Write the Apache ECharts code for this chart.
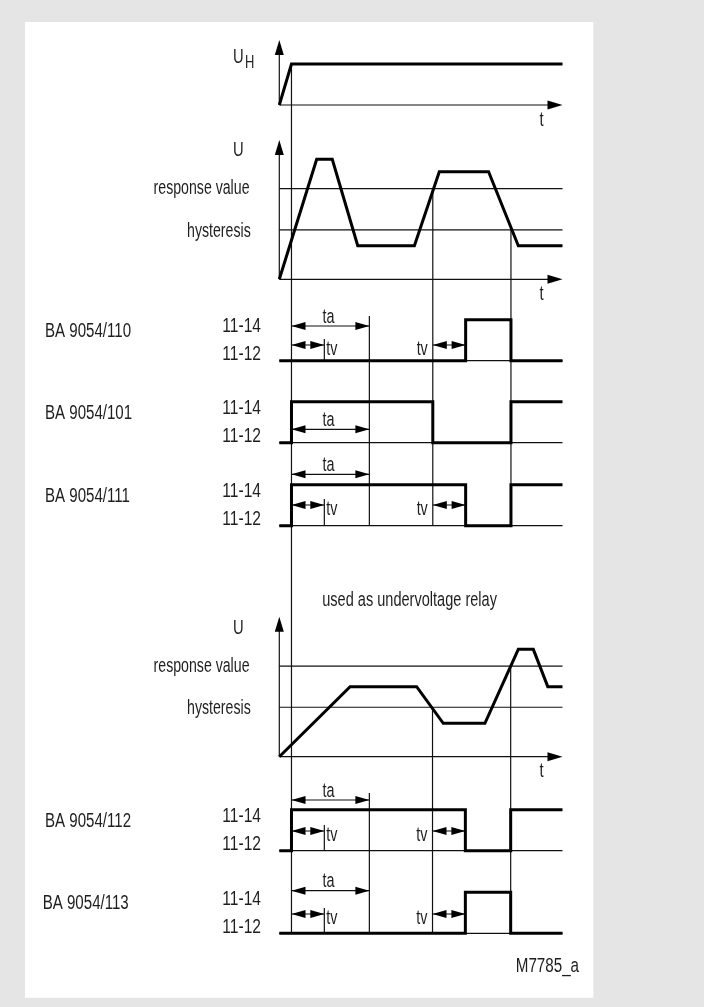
<!DOCTYPE html>
<html>
<head>
<meta charset="utf-8">
<script src="https://cdn.jsdelivr.net/npm/echarts@6/dist/echarts.min.js"></script>
<style>
html,body{margin:0;padding:0;background:#e5e5e5;}
#c{width:704px;height:1007px;}
</style>
</head>
<body>
<div id="c"></div>
<script>
// ================= DATA =================
// time axis runs 0..100 (arbitrary units)
const tEnd = 100;
const tPowerOn = 4.3;          // U_H switched on
const ta = 27.5;               // start-up delay ta
const tv = 11.6;               // response delay tv

const uhTimes  = [0, 4.3, 100];
const uhLevels = [0, 1, 1];

// monitored voltage, first diagram (overvoltage), response value = 100
const uTimes  = [0, 13.2, 18.7, 27.7, 47.7, 56.5, 73.9, 84.4, 100];
const uLevels = [0, 132.5, 132.5, 37.1, 37.1, 118.8, 118.8, 37.1, 37.1];

// monitored voltage, second diagram (undervoltage)
const uvTimes  = [0, 25.0, 48.5, 57.9, 72.6, 84.4, 89.7, 94.8, 100];
const uvLevels = [0, 77.3, 77.3, 36.9, 36.9, 118.5, 118.5, 77.3, 77.3];

const thresholdNames  = ['response value', 'hysteresis'];
const thresholdLevels = [100, 54.6];

const uCrossTimes  = [54.2, 81.8];   // U above response value / below hysteresis
const uvCrossTimes = [54.1, 81.7];   // U below hysteresis / above response value

const relayNames  = ['BA 9054/110', 'BA 9054/101', 'BA 9054/111', 'BA 9054/112', 'BA 9054/113'];
const relayGroup  = [0, 0, 0, 1, 1];            // 0 = first diagram, 1 = undervoltage diagram
// states at: t=0, power on, crossing 1, crossing 1 + tv, crossing 2   (1 = 11-14 closed)
const relayStates = [
  [0, 0, 0, 1, 0],
  [0, 1, 0, 0, 1],
  [0, 1, 1, 0, 1],
  [0, 1, 1, 0, 1],
  [0, 0, 0, 1, 0]
];
const relayHasTv = [true, false, true, true, true];
const contactLabels = ['11-14', '11-12'];
const axisLabelUH = ['U', 'H'];
const axisLabelU = 'U';
const timeLabel = 't';
const taLabel = 'ta', tvLabel = 'tv';
const subTitle = 'used as undervoltage relay';
const drawingId = 'M7785_a';

// ================= LAYOUT (pixels) =================
const X0 = 279.3, X1 = 562.5;
const uhRow = {base: 105, scale: 41, top: 40};
const uRow  = {base: 279.3, scale: 0.906, top: 140};
const uvRow = {base: 756.7, scale: 0.906, top: 616.7};
const relayBase = [360.7, 442.7, 525.7, 850.7, 933.3];
const relayHigh = 41;
const taRise = [34.7, 13.4, 51.4, 50.7, 42.6];
const tvRise = [15.7, 0, 20.7, 19.7, 19.3];
const nameX = [45, 45, 45, 45, 42.7];
const FONT = '"Liberation Sans", Arial, sans-serif';
const FS = 20.5;
const TXT = '#1e1e1e';
const THIN = 1.2, THICK = 3;

// ================= BUILD =================
const yOf = (row, lv) => row.base - lv * row.scale;
const segs = [];   // [t1, y1, t2, y2]
const heads = [];  // {t, y, dir, len, half}
const texts = [];  // {t, y, dx, dy, text, align, size, sx}

function seg(t1, y1, t2, y2) { segs.push([t1, y1, t2, y2]); }
function head(t, y, dir, len, half) { heads.push({t, y, dir, len: len || 14, half: half || 4}); }
function txt(t, y, dx, dy, text, align, sx, size) {
  texts.push({t, y, dx, dy, text, align: align || 'center', sx: sx || 0.72, size: size || FS});
}

// axes of the three voltage diagrams
[uhRow, uRow, uvRow].forEach(row => {
  seg(0, row.base, 0, row.top + 10);
  head(0, row.top, 'u', 15, 4.5);
  seg(0, row.base, tEnd - 4, row.base);
  head(tEnd, row.base, 'r', 15, 4.5);
  txt(tEnd, row.base, -21, 15, timeLabel, 'center');
});
txt(0, yOf(uhRow, 1), -41, -6.5, axisLabelUH[0], 'center');
txt(0, yOf(uhRow, 1), -29.5, -0.5, axisLabelUH[1], 'center', 0.72, 18);
txt(0, uRow.top, -41, 10.7, axisLabelU, 'center');
txt(0, uvRow.top, -41, 11.3, axisLabelU, 'center');

// thresholds
[uRow, uvRow].forEach(row => {
  thresholdLevels.forEach((lv, i) => {
    seg(0, yOf(row, lv), tEnd, yOf(row, lv));
    txt(0, yOf(row, lv), i === 0 ? -29.8 : -28.6, i === 0 ? 0 : 1.5, thresholdNames[i], 'right', 0.69);
  });
});
txt(46, uvRow.top, 0, -16.7, subTitle, 'center', 0.71);

// vertical event lines
const lastUpper = relayBase[2], lastLower = relayBase[4];
seg(tPowerOn, yOf(uhRow, 1), tPowerOn, lastLower);
seg(uCrossTimes[0], yOf(uRow, thresholdLevels[0]), uCrossTimes[0], lastUpper);
seg(uCrossTimes[1], yOf(uRow, thresholdLevels[1]), uCrossTimes[1], lastUpper);
seg(uvCrossTimes[0], yOf(uvRow, thresholdLevels[1]), uvCrossTimes[0], lastLower);
seg(uvCrossTimes[1], yOf(uvRow, thresholdLevels[0]), uvCrossTimes[1], lastLower);
seg(tPowerOn + ta, relayBase[0] - taRise[0] - 10, tPowerOn + ta, lastUpper);
seg(tPowerOn + ta, relayBase[3] - taRise[3] - 7, tPowerOn + ta, lastLower);

// relays
const relaySeries = [];
relayNames.forEach((name, r) => {
  const base = relayBase[r];
  const cross = relayGroup[r] === 0 ? uCrossTimes : uvCrossTimes;
  const times = [0, tPowerOn, cross[0], cross[0] + tv, cross[1]];
  const st = relayStates[r];
  const pts = [];
  for (let i = 0; i < times.length; i++) {
    if (i > 0) pts.push([times[i], base - st[i - 1] * relayHigh]);
    pts.push([times[i], base - st[i] * relayHigh]);
  }
  pts.push([tEnd, base - st[st.length - 1] * relayHigh]);
  relaySeries.push(pts);
  seg(0, base, tEnd, base);
  txt(0, base, nameX[r] - X0, -29.5, name, 'left', 0.735);
  txt(0, base, -18.3, -34, contactLabels[0], 'right', 0.76);
  txt(0, base, -18.3, -6, contactLabels[1], 'right', 0.76);
  // ta arrow
  const ya = base - taRise[r];
  seg(tPowerOn, ya, tPowerOn + ta, ya);
  head(tPowerOn, ya, 'l');
  head(tPowerOn + ta, ya, 'r');
  txt(tPowerOn + ta / 2, ya, -2, -9, taLabel, 'center', 0.7);
  if (relayHasTv[r]) {
    const yv = base - tvRise[r];
    seg(tPowerOn, yv, tPowerOn + tv, yv);
    head(tPowerOn, yv, 'l');
    head(tPowerOn + tv, yv, 'r');
    seg(tPowerOn + tv, yv - 6, tPowerOn + tv, base);
    txt(tPowerOn + tv, yv, 2, 4, tvLabel, 'left', 0.7);
    seg(cross[0], yv, cross[0] + tv, yv);
    head(cross[0], yv, 'l');
    head(cross[0] + tv, yv, 'r');
    txt(cross[0], yv, -5, 4, tvLabel, 'right', 0.7);
  }
});
txt(0, relayBase[4], 579 - X0, 33.4, drawingId, 'right', 0.74);

const lineSeries = (pts) => ({
  type: 'line', data: pts, symbol: 'none', silent: true, clip: false, z: 5,
  lineStyle: {color: '#000', width: THICK, join: 'miter', cap: 'butt'}
});

const option = {
  animation: false,
  backgroundColor: '#e5e5e5',
  graphic: [{type: 'rect', z: 0, shape: {x: 25, y: 22, width: 568.3, height: 975.7}, style: {fill: '#fff'}}],
  grid: {left: X0, right: 704 - X1, top: 0, bottom: 0},
  xAxis: {type: 'value', min: 0, max: tEnd, show: false},
  yAxis: {type: 'value', min: 0, max: 1007, inverse: true, show: false},
  series: [
    {
      type: 'custom', data: segs, silent: true, z: 3,
      renderItem: (params, api) => {
        const p1 = api.coord([api.value(0), api.value(1)]);
        const p2 = api.coord([api.value(2), api.value(3)]);
        return {type: 'line', shape: {x1: p1[0], y1: p1[1], x2: p2[0], y2: p2[1]},
                style: {stroke: '#111', lineWidth: THIN}};
      }
    },
    {
      type: 'custom', data: heads.map(h => [h.t, h.y]), silent: true, z: 6,
      renderItem: (params, api) => {
        const h = heads[params.dataIndex];
        const p = api.coord([api.value(0), api.value(1)]);
        const L = h.len, w = h.half, x = p[0], y = p[1];
        let pts;
        if (h.dir === 'r') pts = [[x, y], [x - L, y - w], [x - L, y + w]];
        else if (h.dir === 'l') pts = [[x, y], [x + L, y - w], [x + L, y + w]];
        else pts = [[x, y], [x - w, y + L], [x + w, y + L]];
        return {type: 'polygon', shape: {points: pts}, style: {fill: '#000'}};
      }
    },
    {
      type: 'custom', data: texts.map(s => [s.t, s.y]), silent: true, z: 7,
      renderItem: (params, api) => {
        const s = texts[params.dataIndex];
        const p = api.coord([api.value(0), api.value(1)]);
        return {type: 'text', x: p[0] + s.dx, y: p[1] + s.dy, scaleX: s.sx, scaleY: 1,
                style: {text: s.text, fill: TXT, font: s.size + 'px ' + FONT, align: s.align, verticalAlign: 'middle'}};
      }
    },
    lineSeries(uhTimes.map((t, i) => [t, yOf(uhRow, uhLevels[i])])),
    lineSeries(uTimes.map((t, i) => [t, yOf(uRow, uLevels[i])])),
    lineSeries(uvTimes.map((t, i) => [t, yOf(uvRow, uvLevels[i])])),
    ...relaySeries.map(lineSeries)
  ]
};
const chart = echarts.init(document.getElementById('c'));
chart.setOption(option);
</script>
</body>
</html>
